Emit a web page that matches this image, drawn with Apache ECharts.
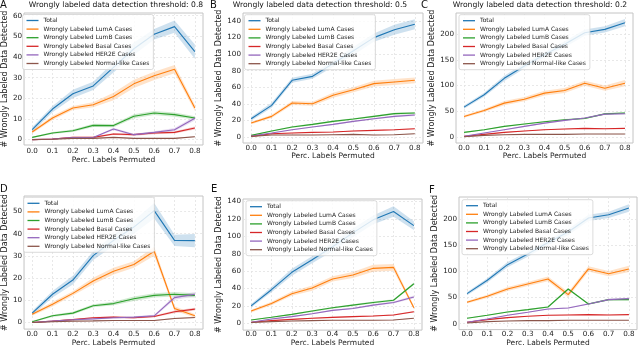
<!DOCTYPE html>
<html><head><meta charset="utf-8">
<script src="https://cdn.jsdelivr.net/npm/echarts@6/dist/echarts.min.js"></script>
<style>html,body{margin:0;padding:0;background:#fff}#c{width:640px;height:348px}</style>
</head><body><div id="c"></div>
<script>
// ---------- data ----------
const percLabels = [0.0, 0.1, 0.2, 0.3, 0.4, 0.5, 0.6, 0.7, 0.8];
const seriesNames = ['Total', 'Wrongly Labeled LumA Cases', 'Wrongly Labeled LumB Cases',
  'Wrongly Labeled Basal Cases', 'Wrongly Labeled HER2E Cases', 'Wrongly Labeled Normal-like Cases'];
const panelLetters = ['A', 'B', 'C', 'D', 'E', 'F'];
const panelTitles = ['Wrongly labeled data detection threshold: 0.8',
  'Wrongly labeled data detection threshold: 0.5',
  'Wrongly labeled data detection threshold: 0.2'];
const xAxisTitle = 'Perc. Labels Permuted';
const yAxisTitle = '# Wrongly Labeled Data Detected';
const xTicks = [0.0, 0.1, 0.2, 0.3, 0.4, 0.5, 0.6, 0.7, 0.8];
const yTicksA = [0, 10, 20, 30, 40, 50, 60];
const yTicksB = [0, 20, 40, 60, 80, 100, 120, 140];
const yTicksC = [0, 50, 100, 150, 200];
const yTicksD = [0, 10, 20, 30, 40, 50];
const yTicksE = [0, 20, 40, 60, 80, 100, 120, 140];
const yTicksF = [0, 50, 100, 150, 200];

// Panel A (threshold 0.8)
const A_total  = [4.8, 14.8, 22.2, 26.0, 35.0, 44.0, 51.0, 54.7, 42.6];
const A_lumA   = [3.7, 10.5, 15.3, 16.9, 20.9, 27.0, 30.9, 34.1, 15.3];
const A_lumB   = [1.1, 3.2, 4.3, 6.9, 6.8, 11.3, 12.9, 12.1, 10.5];
const A_basal  = [0.0, 0.3, 1.1, 1.1, 2.7, 2.4, 3.2, 3.5, 5.6];
const A_her2e  = [0.0, 0.3, 1.0, 1.0, 5.1, 2.4, 3.5, 4.8, 10.3];
const A_normal = [0.0, 0.2, 0.6, 0.6, 1.1, 0.6, 0.6, 0.6, 1.4];
const A_total_err  = [1.2, 1.5, 2.0, 2.0, 2.5, 3.0, 2.5, 3.0, 3.5];
const A_lumA_err   = [0.7, 1.0, 1.0, 1.2, 1.8, 2.0, 2.0, 2.0, 1.5];
const A_lumB_err   = [0.3, 0.5, 0.6, 0.8, 0.8, 1.0, 1.0, 1.0, 0.8];
const A_basal_err  = [0.1, 0.2, 0.3, 0.3, 0.5, 0.5, 0.6, 0.5, 0.7];
const A_her2e_err  = [0.1, 0.2, 0.3, 0.3, 0.6, 0.5, 0.6, 0.8, 1.0];
const A_normal_err = [0.1, 0.1, 0.2, 0.2, 0.2, 0.2, 0.2, 0.2, 0.3];

// Panel B (threshold 0.5)
const B_total  = [22.1, 38.2, 68.4, 73.2, 88.5, 104.0, 119.9, 129.5, 136.0];
const B_lumA   = [16.9, 24.9, 41.0, 40.2, 50.3, 57.1, 64.4, 66.4, 68.4];
const B_lumB   = [2.0, 7.2, 12.1, 15.3, 18.9, 21.7, 24.9, 28.2, 29.0];
const B_basal  = [0.8, 4.0, 4.8, 5.6, 6.0, 7.2, 8.0, 8.8, 10.0];
const B_her2e  = [1.2, 4.8, 8.8, 12.1, 15.3, 18.9, 22.1, 24.9, 26.5];
const B_normal = [0.8, 2.4, 2.4, 2.4, 2.8, 3.2, 2.4, 2.8, 4.0];
const B_total_err  = [2.5, 3.0, 3.0, 3.0, 4.0, 5.0, 5.0, 6.0, 6.0];
const B_lumA_err   = [1.5, 2.0, 2.5, 2.5, 3.0, 3.0, 3.5, 3.5, 3.5];
const B_lumB_err   = [0.5, 0.7, 0.8, 1.0, 1.0, 1.0, 1.0, 1.2, 1.2];
const B_basal_err  = [0.3, 0.5, 0.5, 0.5, 0.5, 0.6, 0.6, 0.7, 0.7];
const B_her2e_err  = [0.3, 0.5, 0.6, 0.7, 0.8, 0.8, 1.0, 1.0, 1.2];
const B_normal_err = [0.2, 0.3, 0.3, 0.3, 0.3, 0.3, 0.3, 0.3, 0.4];

// Panel C (threshold 0.2)
const C_total  = [58.0, 82.0, 114.0, 138.0, 160.0, 180.0, 202.6, 209.0, 222.0];
const C_lumA   = [40.0, 51.6, 65.8, 73.5, 85.2, 90.3, 104.5, 94.8, 104.5];
const C_lumB   = [9.0, 14.2, 20.6, 25.2, 29.7, 33.5, 36.0, 45.0, 46.5];
const C_basal  = [1.3, 5.2, 9.0, 11.6, 14.2, 15.5, 16.8, 16.1, 16.8];
const C_her2e  = [1.3, 7.7, 14.2, 20.6, 27.0, 32.3, 36.8, 44.5, 45.2];
const C_normal = [0.6, 3.2, 4.5, 5.2, 5.2, 5.2, 5.8, 5.8, 5.8];
const C_total_err  = [3.0, 4.0, 5.0, 5.0, 5.0, 6.0, 6.0, 6.0, 7.0];
const C_lumA_err   = [2.5, 3.0, 4.0, 4.0, 4.5, 5.0, 5.0, 5.0, 6.0];
const C_lumB_err   = [1.0, 1.0, 1.0, 1.2, 1.2, 1.3, 1.3, 1.5, 1.5];
const C_basal_err  = [0.5, 0.5, 0.6, 0.6, 0.7, 0.8, 0.8, 0.8, 0.8];
const C_her2e_err  = [0.4, 0.6, 0.8, 1.0, 1.0, 1.2, 1.2, 1.5, 1.5];
const C_normal_err = [0.2, 0.3, 0.3, 0.3, 0.3, 0.3, 0.3, 0.3, 0.3];

// Panel D
const D_total  = [4.2, 12.7, 19.1, 30.1, 37.0, 43.0, 50.4, 37.0, 36.9];
const D_lumA   = [3.7, 8.2, 13.1, 18.7, 23.1, 26.1, 32.1, 6.3, 3.0];
const D_lumB   = [0.3, 3.0, 4.2, 7.5, 8.5, 10.7, 12.2, 12.7, 12.2];
const D_basal  = [0.0, 0.6, 1.3, 2.1, 2.4, 2.1, 2.7, 4.8, 6.0];
const D_her2e  = [0.0, 0.6, 1.2, 1.6, 2.1, 2.4, 3.0, 11.2, 12.7];
const D_normal = [0.0, 0.3, 0.6, 0.7, 0.9, 0.9, 0.9, 1.8, 2.2];
const D_total_err  = [1.0, 1.5, 2.0, 2.0, 2.5, 3.0, 3.5, 2.5, 3.0];
const D_lumA_err   = [0.7, 1.0, 1.0, 1.5, 1.5, 1.5, 2.0, 1.0, 0.8];
const D_lumB_err   = [0.3, 0.5, 0.6, 0.7, 0.8, 1.0, 1.0, 1.0, 1.0];
const D_basal_err  = [0.1, 0.2, 0.3, 0.3, 0.4, 0.4, 0.4, 0.6, 0.6];
const D_her2e_err  = [0.1, 0.2, 0.3, 0.3, 0.4, 0.4, 0.5, 1.0, 1.0];
const D_normal_err = [0.1, 0.1, 0.1, 0.2, 0.2, 0.2, 0.2, 0.3, 0.3];

// Panel E
const E_total  = [20.0, 38.6, 58.6, 73.0, 88.0, 104.0, 119.0, 128.6, 112.4];
const E_lumA   = [14.0, 22.7, 34.0, 40.5, 51.0, 55.6, 63.2, 64.3, 17.8];
const E_lumB   = [3.8, 6.8, 10.2, 14.0, 17.8, 20.8, 23.8, 26.5, 45.4];
const E_basal  = [1.1, 3.0, 4.5, 5.7, 6.8, 7.6, 8.3, 9.5, 13.2];
const E_her2e  = [1.1, 4.9, 7.6, 11.0, 14.8, 17.0, 20.8, 23.8, 30.3];
const E_normal = [0.8, 1.9, 2.6, 3.0, 3.4, 3.4, 3.4, 3.8, 5.7];
const E_total_err  = [2.0, 3.0, 4.0, 4.0, 5.0, 5.0, 5.0, 6.0, 5.0];
const E_lumA_err   = [1.5, 2.0, 2.5, 3.0, 3.0, 3.5, 4.0, 4.0, 2.0];
const E_lumB_err   = [0.5, 0.6, 0.8, 1.0, 1.0, 1.0, 1.2, 1.2, 1.5];
const E_basal_err  = [0.3, 0.4, 0.5, 0.5, 0.6, 0.6, 0.6, 0.7, 0.8];
const E_her2e_err  = [0.3, 0.5, 0.6, 0.8, 0.8, 1.0, 1.0, 1.2, 1.5];
const E_normal_err = [0.2, 0.2, 0.3, 0.3, 0.3, 0.3, 0.3, 0.3, 0.4];

// Panel F
const F_total  = [57.3, 82.8, 112.7, 133.0, 155.0, 175.0, 202.0, 208.0, 221.0];
const F_lumA   = [40.8, 52.2, 66.2, 75.8, 85.4, 55.4, 104.5, 95.5, 104.5];
const F_lumB   = [10.2, 15.9, 22.3, 26.8, 31.8, 66.2, 37.6, 45.9, 45.9];
const F_basal  = [2.5, 7.6, 11.5, 14.0, 15.9, 16.6, 17.2, 16.6, 17.2];
const F_her2e  = [2.5, 8.9, 15.9, 21.7, 28.0, 29.9, 37.6, 45.9, 47.8];
const F_normal = [1.3, 3.8, 5.1, 5.7, 5.7, 6.4, 6.4, 6.4, 6.4];
const F_total_err  = [3.0, 4.0, 5.0, 5.0, 5.0, 6.0, 6.0, 6.0, 7.0];
const F_lumA_err   = [2.5, 3.0, 4.0, 4.0, 4.5, 5.0, 5.0, 5.0, 6.0];
const F_lumB_err   = [1.0, 1.0, 1.2, 1.2, 1.5, 2.0, 1.5, 1.5, 1.5];
const F_basal_err  = [0.5, 0.5, 0.6, 0.6, 0.7, 0.8, 0.8, 0.8, 0.8];
const F_her2e_err  = [0.4, 0.6, 0.8, 1.0, 1.0, 1.2, 1.2, 1.5, 1.5];
const F_normal_err = [0.2, 0.3, 0.3, 0.3, 0.3, 0.3, 0.3, 0.3, 0.3];

// ---------- layout / style ----------
const colors = ['#1f77b4', '#ff7f0e', '#2ca02c', '#d62728', '#9467bd', '#8c564b'];
const FONT = 'DejaVu Sans';
const panels = [
  { vals: [A_total, A_lumA, A_lumB, A_basal, A_her2e, A_normal],
    errs: [A_total_err, A_lumA_err, A_lumB_err, A_basal_err, A_her2e_err, A_normal_err],
    yTicks: yTicksA, yMin: -2.6, yMax: 61.3,
    grid: { left: 21, top: 13, width: 182, height: 132 },
    legend: { left: 22.5, top: 14.5 }, xLabelMargin: 3, xNameGap: 10, yNameGap: 11,
    letter: [0, 0], title: [116, 5.5] },
  { vals: [B_total, B_lumA, B_lumB, B_basal, B_her2e, B_normal],
    errs: [B_total_err, B_lumA_err, B_lumB_err, B_basal_err, B_her2e_err, B_normal_err],
    yTicks: yTicksB, yMin: -7.2, yMax: 149.6,
    grid: { left: 243, top: 13, width: 180, height: 130 },
    legend: { left: 244.5, top: 14.7 }, xLabelMargin: 1.5, xNameGap: 8.5, yNameGap: 14,
    letter: [210, 0], title: [320, 5.5] },
  { vals: [C_total, C_lumA, C_lumB, C_basal, C_her2e, C_normal],
    errs: [C_total_err, C_lumA_err, C_lumB_err, C_basal_err, C_her2e_err, C_normal_err],
    yTicks: yTicksC, yMin: -11.6, yMax: 240.8,
    grid: { left: 456, top: 13, width: 177, height: 130 },
    legend: { left: 459, top: 14.7 }, xLabelMargin: 1.5, xNameGap: 8, yNameGap: 14,
    letter: [421, 0], title: [540, 5.5] },
  { vals: [D_total, D_lumA, D_lumB, D_basal, D_her2e, D_normal],
    errs: [D_total_err, D_lumA_err, D_lumB_err, D_basal_err, D_her2e_err, D_normal_err],
    yTicks: yTicksD, yMin: -3.0, yMax: 57.0,
    grid: { left: 22, top: 196, width: 181, height: 134 },
    legend: { left: 23.5, top: 197.3 }, xLabelMargin: 2, xNameGap: 8.5, yNameGap: 12,
    letter: [0, 184] },
  { vals: [E_total, E_lumA, E_lumB, E_basal, E_her2e, E_normal],
    errs: [E_total_err, E_lumA_err, E_lumB_err, E_basal_err, E_her2e_err, E_normal_err],
    yTicks: yTicksE, yMin: -7.9, yMax: 143.0,
    grid: { left: 243, top: 199, width: 179, height: 133 },
    legend: { left: 246, top: 200.7 }, xLabelMargin: 1, xNameGap: 8, yNameGap: 13,
    letter: [211, 184] },
  { vals: [F_total, F_lumA, F_lumB, F_basal, F_her2e, F_normal],
    errs: [F_total_err, F_lumA_err, F_lumB_err, F_basal_err, F_her2e_err, F_normal_err],
    yTicks: yTicksF, yMin: -11.4, yMax: 242.0,
    grid: { left: 459, top: 197, width: 178, height: 133 },
    legend: { left: 462, top: 199.7 }, xLabelMargin: 1.5, xNameGap: 8.5, yNameGap: 16,
    letter: [429, 185] }
];

function bandRenderer(rows, color) {
  return function (params, api) {
    if (params.dataIndex !== 0) return null;
    const upper = rows.map(r => api.coord([r[0], r[2]]));
    const lower = rows.map(r => api.coord([r[0], r[1]])).reverse();
    return {
      type: 'polygon',
      shape: { points: upper.concat(lower) },
      style: { fill: color, opacity: 0.22 },
      silent: true
    };
  };
}

const grid = [], xAxis = [], yAxis = [], series = [], legend = [], graphic = [];
panels.forEach((p, k) => {
  grid.push(Object.assign({ show: true, borderColor: '#c4c4c4', borderWidth: 1, backgroundColor: 'transparent' }, p.grid));
  xAxis.push({
    type: 'value', gridIndex: k, min: -0.04, max: 0.84,
    name: xAxisTitle, nameLocation: 'middle', nameGap: p.xNameGap,
    nameTextStyle: { fontFamily: FONT, fontSize: 7.5, color: '#222' },
    axisLine: { show: false },
    axisTick: { show: false, customValues: xTicks },
    axisLabel: { customValues: xTicks, margin: p.xLabelMargin, fontFamily: FONT, fontSize: 7.2, color: '#222',
      formatter: v => v.toFixed(1) },
    splitLine: { show: true, lineStyle: { color: '#e3e3e3', width: 0.8, type: [2, 2] } }
  });
  yAxis.push({
    type: 'value', gridIndex: k, min: p.yMin, max: p.yMax,
    name: yAxisTitle, nameLocation: 'middle', nameGap: p.yNameGap,
    nameTextStyle: { fontFamily: FONT, fontSize: 8, color: '#222' },
    axisLine: { show: false },
    axisTick: { show: false, customValues: p.yTicks },
    axisLabel: { customValues: p.yTicks, margin: 2, fontFamily: FONT, fontSize: 7.2, color: '#222' },
    splitLine: { show: true, lineStyle: { color: '#e3e3e3', width: 0.8, type: [2, 2] } }
  });
  // confidence bands (custom polygons through the axes' scales)
  p.vals.forEach((vals, s) => {
    const e = p.errs[s];
    const rows = percLabels.map((x, i) => [x, vals[i] - e[i], vals[i] + e[i]]);
    series.push({
      type: 'custom', name: 'band' + k + '_' + s, xAxisIndex: k, yAxisIndex: k,
      data: rows, encode: { x: 0, y: [1, 2] }, renderItem: bandRenderer(rows, colors[s]),
      silent: true, z: 1, animation: false, clip: true
    });
  });
  // mean lines
  p.vals.forEach((vals, s) => {
    series.push({
      type: 'line', name: seriesNames[s], xAxisIndex: k, yAxisIndex: k,
      data: percLabels.map((x, i) => [x, vals[i]]), symbol: 'none', showSymbol: false,
      lineStyle: { width: 1.1, color: colors[s] }, itemStyle: { color: colors[s] }, z: 3, animation: false
    });
  });
  legend.push({
    data: seriesNames, orient: 'vertical', left: p.legend.left, top: p.legend.top,
    icon: 'rect', itemWidth: 12, itemHeight: 1.3, itemGap: 0.6, padding: [2, 4, 2, 4], selectedMode: false,
    backgroundColor: 'rgba(255,255,255,0.82)', borderColor: '#d2d2d2', borderWidth: 0.8, borderRadius: 2,
    textStyle: { fontFamily: FONT, fontSize: 6, color: '#222', lineHeight: 8, height: 8 }
  });
  graphic.push({ type: 'text', x: p.letter[0], y: p.letter[1],
    style: { text: panelLetters[k], fontFamily: FONT, fontSize: 10, fill: '#111' } });
  if (p.title) {
    graphic.push({ type: 'text', x: p.title[0], y: p.title[1],
      style: { text: panelTitles[k], fontFamily: FONT, fontSize: 7.6, fill: '#111', align: 'center', verticalAlign: 'middle' } });
  }
});

const chart = echarts.init(document.getElementById('c'), null, { renderer: 'canvas' });
chart.setOption({ animation: false, backgroundColor: '#fff', grid, xAxis, yAxis, series, legend, graphic });
</script></body></html>
